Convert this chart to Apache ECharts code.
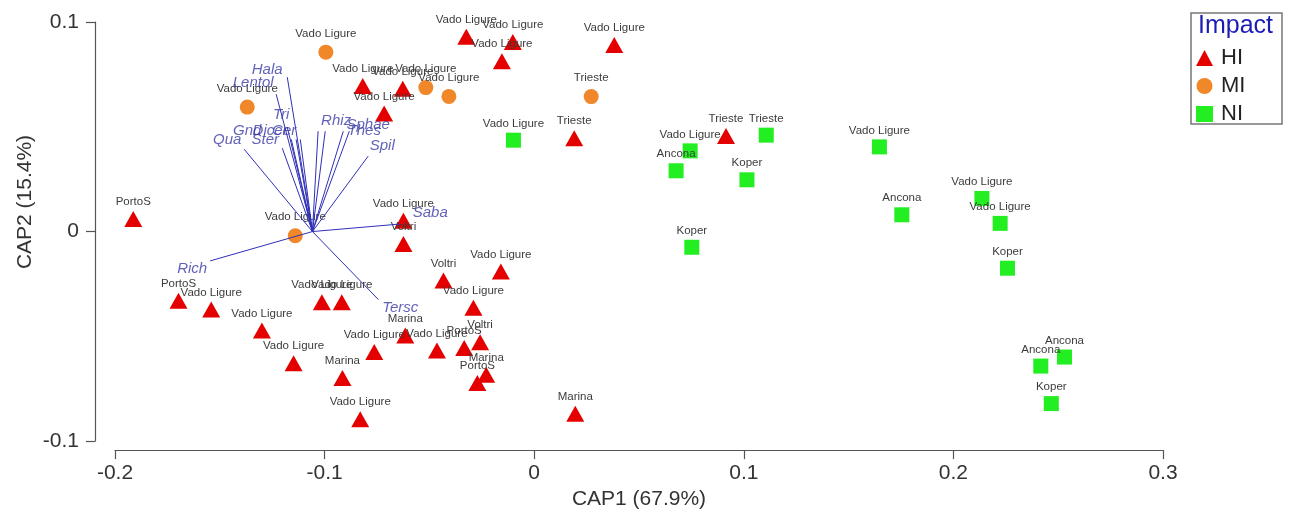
<!DOCTYPE html>
<html>
<head>
<meta charset="utf-8">
<script src="https://cdn.jsdelivr.net/npm/echarts@6/dist/echarts.min.js"></script>
<style>
html,body{margin:0;padding:0;background:#fff;}
#chart{width:1290px;height:515px;}
</style>
</head>
<body>
<div id="chart"></div>
<script>
// ---- Data (CAP1, CAP2, site) ----
const hiPoints = [
  [-0.1913, 0.0060, 'PortoS'],
  [-0.0818, 0.0694, 'Vado Ligure'],
  [-0.0627, 0.0682, 'Vado Ligure'],
  [-0.0716, 0.0563, 'Vado Ligure'],
  [-0.0624, 0.0051, 'Vado Ligure'],
  [-0.0624, -0.0060, 'Voltri'],
  [-0.0324, 0.0930, 'Vado Ligure'],
  [-0.0102, 0.0904, 'Vado Ligure'],
  [-0.0154, 0.0813, 'Vado Ligure'],
  [0.0382, 0.0890, 'Vado Ligure'],
  [0.0191, 0.0445, 'Trieste'],
  [0.0915, 0.0456, 'Trieste'],
  [-0.1697, -0.0330, 'PortoS'],
  [-0.1541, -0.0372, 'Vado Ligure'],
  [-0.1299, -0.0472, 'Vado Ligure'],
  [-0.1148, -0.0628, 'Vado Ligure'],
  [-0.0915, -0.0699, 'Marina'],
  [-0.0830, -0.0896, 'Vado Ligure'],
  [-0.1013, -0.0337, 'Vado Ligure'],
  [-0.0918, -0.0337, 'Vado Ligure'],
  [-0.0763, -0.0575, 'Vado Ligure'],
  [-0.0615, -0.0496, 'Marina'],
  [-0.0433, -0.0234, 'Voltri'],
  [-0.0159, -0.0191, 'Vado Ligure'],
  [-0.0290, -0.0364, 'Vado Ligure'],
  [-0.0464, -0.0568, 'Vado Ligure'],
  [-0.0334, -0.0556, 'PortoS'],
  [-0.0258, -0.0528, 'Voltri'],
  [-0.0229, -0.0683, 'Marina'],
  [-0.0271, -0.0723, 'PortoS'],
  [0.0196, -0.0869, 'Marina']
];
const miPoints = [
  [-0.0994, 0.0856, 'Vado Ligure'],
  [-0.1369, 0.0594, 'Vado Ligure'],
  [-0.1140, -0.0020, 'Vado Ligure'],
  [-0.0517, 0.0687, 'Vado Ligure'],
  [-0.0407, 0.0645, 'Vado Ligure'],
  [0.0272, 0.0644, 'Trieste']
];
const niPoints = [
  [-0.0099, 0.0436, 'Vado Ligure'],
  [0.0744, 0.0385, 'Vado Ligure'],
  [0.0677, 0.0290, 'Ancona'],
  [0.1107, 0.0460, 'Trieste'],
  [0.1015, 0.0247, 'Koper'],
  [0.0752, -0.0075, 'Koper'],
  [0.1647, 0.0404, 'Vado Ligure'],
  [0.1754, 0.0080, 'Ancona'],
  [0.2136, 0.0158, 'Vado Ligure'],
  [0.2223, 0.0039, 'Vado Ligure'],
  [0.2258, -0.0175, 'Koper'],
  [0.2417, -0.0642, 'Ancona'],
  [0.2530, -0.0599, 'Ancona'],
  [0.2467, -0.0821, 'Koper']
];
// vector origin and end points (CAP1, CAP2)
const vectorOrigin = [-0.1058, 0.0];
const vectorEnds = [
  [-0.1178, 0.0736], [-0.1231, 0.0655], [-0.1178, 0.0498], [-0.1159, 0.0440],
  [-0.1136, 0.0440], [-0.1116, 0.0440], [-0.1384, 0.0393], [-0.1202, 0.0398],
  [-0.1031, 0.0479], [-0.0997, 0.0479], [-0.0911, 0.0479], [-0.0882, 0.0479],
  [-0.0792, 0.0360], [-0.0639, 0.0036], [-0.1546, -0.0140], [-0.0743, -0.0325]
];
// vector labels (CAP1, CAP2, name)
const vectorLabels = [
  [-0.1274, 0.0774, 'Hala'], [-0.1341, 0.0712, 'Lentol'], [-0.1207, 0.0555, 'Tri'],
  [-0.1369, 0.0479, 'Gnd'], [-0.1260, 0.0483, 'Dicer'], [-0.1193, 0.0483, 'Cer'],
  [-0.1465, 0.0440, 'Qua'], [-0.1283, 0.0440, 'Ster'], [-0.0945, 0.0526, 'Rhiz'],
  [-0.0792, 0.0507, 'Sphae'], [-0.0811, 0.0483, 'Thes'], [-0.0725, 0.0407, 'Spil'],
  [-0.0496, 0.0088, 'Saba'], [-0.1632, -0.0179, 'Rich'], [-0.0639, -0.0364, 'Tersc']
];
const groupNames = ['HI', 'MI', 'NI'];
const xTitle = 'CAP1 (67.9%)';
const yTitle = 'CAP2 (15.4%)';
const legendTitle = 'Impact';

const FONT = '"Liberation Sans", Arial, sans-serif';
const AX = '#555';
function ptLabel(dist) {
  return { show: true, position: 'top', distance: dist, formatter: p => p.data[2],
    fontSize: 11.5, color: '#3c3c3c', fontFamily: FONT };
}

const chart = echarts.init(document.getElementById('chart'), null, { renderer: 'canvas' });
chart.setOption({
  animation: false,
  backgroundColor: '#fff',
  title: {
    text: legendTitle, left: 1191, top: 13,
    padding: [1, 9, 85, 7],
    borderColor: '#777', borderWidth: 1.5,
    textStyle: { fontSize: 25, fontWeight: 'normal', color: '#1c1cb4', fontFamily: FONT }
  },
  legend: {
    orient: 'vertical', left: 1196, top: 46, padding: 0, itemGap: 4,
    itemWidth: 17, itemHeight: 16,
    data: groupNames,
    textStyle: { fontSize: 22, color: '#222', fontFamily: FONT, lineHeight: 24, padding: [0, 0, 0, 3] }
  },
  grid: { left: 115, right: 127, top: 22, bottom: 73, containLabel: false },
  xAxis: {
    type: 'value', min: -0.2, max: 0.3, interval: 0.1, offset: 9, position: 'bottom',
    name: xTitle, nameLocation: 'middle', nameGap: 38,
    nameTextStyle: { fontSize: 21, color: '#333', fontFamily: FONT },
    axisLine: { show: true, onZero: false, lineStyle: { color: AX, width: 1.2 } },
    axisTick: { show: true, length: 9, lineStyle: { color: AX, width: 1.2 } },
    axisLabel: { fontSize: 21, color: '#333', margin: 13, fontFamily: FONT },
    splitLine: { show: false }
  },
  yAxis: {
    type: 'value', min: -0.1, max: 0.1, interval: 0.1, offset: 20, position: 'left',
    axisLine: { show: true, onZero: false, lineStyle: { color: AX, width: 1.2 } },
    axisTick: { show: true, length: 9, lineStyle: { color: AX, width: 1.2 } },
    axisLabel: { fontSize: 21, color: '#333', margin: 16, fontFamily: FONT },
    splitLine: { show: false }
  },
  graphic: [{
    type: 'text', x: 25, y: 202, rotation: Math.PI / 2,
    style: { text: yTitle, font: '21px ' + FONT, fill: '#333', align: 'center', verticalAlign: 'middle' }
  }],
  series: [
    { name: 'HI', type: 'scatter', data: hiPoints, symbol: 'triangle', symbolSize: [18, 16],
      itemStyle: { color: '#e50000', opacity: 1 }, label: ptLabel(3), z: 3 },
    { name: 'MI', type: 'scatter', data: miPoints, symbol: 'circle', symbolSize: 15,
      itemStyle: { color: '#f0882a', opacity: 1 }, label: ptLabel(5), z: 3 },
    { name: 'NI', type: 'scatter', data: niPoints, symbol: 'rect', symbolSize: 15,
      itemStyle: { color: '#22ee22', opacity: 1 }, label: ptLabel(3), z: 3 },
    { name: 'vectors', type: 'lines', coordinateSystem: 'cartesian2d', polyline: false,
      data: vectorEnds.map(e => ({ coords: [vectorOrigin, e] })),
      lineStyle: { color: '#3030b8', width: 1, opacity: 1 }, z: 4, silent: true },
    { name: 'vlabels', type: 'scatter', data: vectorLabels, symbolSize: 0, z: 5,
      label: { show: true, position: 'inside', formatter: p => p.data[2], fontSize: 15,
        fontStyle: 'italic', color: '#3a3aa8', fontFamily: FONT }, silent: true }
  ]
});
</script>
</body>
</html>
